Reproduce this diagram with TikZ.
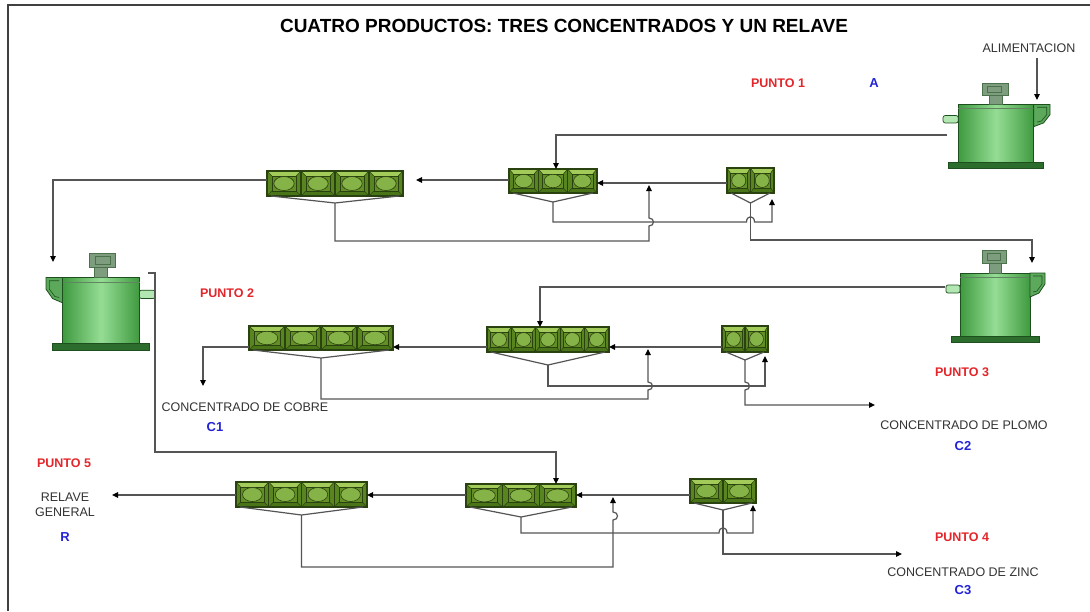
\documentclass[tikz,border=0pt]{standalone}
\usepackage{fontspec}
\setmainfont{Liberation Sans}
\usetikzlibrary{arrows.meta,calc}

\definecolor{linegray}{HTML}{555555}
\definecolor{txtgray}{HTML}{333333}
\definecolor{ptred}{HTML}{E3262B}
\definecolor{ptblue}{HTML}{2424D6}
\definecolor{cellout}{HTML}{2A4210}
\definecolor{cellmid}{HTML}{638F26}
\definecolor{celltop}{HTML}{A2CB5A}
\definecolor{cellbot}{HTML}{4A7418}
\definecolor{cellside}{HTML}{58851F}
\definecolor{cellegg}{HTML}{86B347}
\definecolor{tankedge}{HTML}{3F9A3F}
\definecolor{tankmid}{HTML}{95DD95}
\definecolor{tankline}{HTML}{1E4F1E}
\definecolor{tanklight}{HTML}{B2E6B2}
\definecolor{motorgray}{HTML}{7E9C7E}

\tikzset{
  flow/.style={draw=linegray, line width=1.2pt},
  arr/.style={flow, -{Triangle[length=6pt,width=5.5pt,color=black]}},
  lbl/.style={text=txtgray, font=\fontsize{12.5}{15}\selectfont, inner sep=0pt},
  punto/.style={text=ptred, font=\bfseries\fontsize{12.5}{15}\selectfont, inner sep=0pt},
  tag/.style={text=ptblue, font=\bfseries\fontsize{13}{15}\selectfont, inner sep=0pt},
  bankbox/.style={draw=none, inner sep=0pt, outer sep=0pt},
}

% one flotation cell drawn in a unit square
\newcommand\cellunit{%
  \fill[cellmid] (0,0) rectangle (1,1);
  \fill[celltop] (0,0) -- (1,0) -- (0.86,0.2) -- (0.14,0.2) -- cycle;
  \fill[cellbot] (0,1) -- (1,1) -- (0.86,0.8) -- (0.14,0.8) -- cycle;
  \fill[cellside] (0,0) -- (0.14,0.2) -- (0.14,0.8) -- (0,1) -- cycle;
  \fill[cellside] (1,0) -- (0.86,0.2) -- (0.86,0.8) -- (1,1) -- cycle;
  \draw[cellout, line width=0.5pt] (0,0) -- (0.14,0.2) (1,0) -- (0.86,0.2)
        (0,1) -- (0.14,0.8) (1,1) -- (0.86,0.8);
  \draw[cellout, line width=0.5pt] (0.14,0.2) rectangle (0.86,0.8);
  \filldraw[fill=cellegg, draw=cellout, line width=0.6pt] (0.5,0.5) ellipse [x radius=0.3, y radius=0.28];
  \draw[cellout, line width=1.1pt] (0,0) rectangle (1,1);
}

% bank of cells: name, x0, y0, x1, y1, number of cells, trough depth
\newcommand\bank[7]{%
  \pgfmathsetmacro\bw{(#4-#2)/#6}
  \pgfmathsetmacro\bh{#5-#3}
  \node[bankbox, minimum width={(#4-#2)*1pt}, minimum height={(#5-#3)*1pt}, anchor=north west] (#1) at (#2,#3) {};
  \foreach \k in {1,...,#6}{
    \begin{scope}[shift={({#2+(\k-1)*\bw},#3)}, xscale=\bw, yscale=\bh]
      \cellunit
    \end{scope}
  }
  \coordinate (#1t) at ({(#2+#4)/2},{#5+#7});
  \draw[flow] ({#2+4},#5) -- (#1t) -- ({#4-4},#5);
}

% conditioning tank: x, y of base centre, x scale, y scale
\newcommand\tank[4]{%
  \begin{scope}[shift={(#1,#2)}, xscale=#3, yscale=#4]
    \filldraw[fill=tankedge!70!black, draw=tankline, line width=0.8pt] (-44,-6) rectangle (44,0);
    \draw[tankline, line width=0.8pt, left color=tankedge, right color=tankedge, middle color=tankmid]
          (-35,-69) rectangle (35,-6);
    \draw[tankline!70, line width=0.5pt] (-35,-65) -- (35,-65);
    \filldraw[fill=tankedge!85, draw=tankline, line width=0.8pt]
          (35,-69) -- (50,-69) -- (50,-58) -- (44,-49) -- (35,-45) -- cycle;
    \draw[tankline, line width=0.6pt] (38,-66) -- (47,-66) -- (47,-58) -- (42,-51) -- (38,-50);
    \filldraw[fill=tanklight, draw=tankline, line width=0.7pt, rounded corners=2pt] (-49,-57) rectangle (-35,-49);
    \filldraw[fill=motorgray, draw=tankline!80, line width=0.6pt] (-6,-79) rectangle (6,-69);
    \filldraw[fill=motorgray, draw=tankline!80, line width=0.6pt] (-13,-92) rectangle (11,-79);
    \draw[tankline!80, line width=0.5pt] (-8,-89) rectangle (5,-82);
  \end{scope}
}

\begin{document}
\begin{tikzpicture}[x=1pt, y=-1pt]
  \useasboundingbox (0,0) rectangle (1090,611);
  \fill[white] (0,0) rectangle (1090,611);
  \draw[black!75, line width=1.4pt] (1090,5) -- (8,5) -- (8,611);

  % title and labels
  \node[font=\bfseries\fontsize{19}{22}\selectfont, inner sep=0pt] (title) at (564,26)
       {CUATRO PRODUCTOS: TRES CONCENTRADOS Y UN RELAVE};
  \node[lbl] (alim) at (1029,48) {ALIMENTACION};
  \node[punto] (p1) at (778,83) {PUNTO 1};
  \node[tag] (tA) at (874,83) {A};
  \node[punto] (p2) at (227,293) {PUNTO 2};
  \node[punto] (p3) at (962,372) {PUNTO 3};
  \node[lbl] (cu) at (245,407) {CONCENTRADO DE COBRE};
  \node[tag] (c1) at (215,427) {C1};
  \node[lbl] (pb) at (964,425) {CONCENTRADO DE PLOMO};
  \node[tag] (c2) at (963,446) {C2};
  \node[punto] (p4) at (962,537) {PUNTO 4};
  \node[lbl] (zn) at (963,572) {CONCENTRADO DE ZINC};
  \node[tag] (c3) at (963,590) {C3};
  \node[punto] (p5) at (64,463) {PUNTO 5};
  \node[lbl, align=center] (rel) at (65,505) {RELAVE\\GENERAL};
  \node[tag] (tR) at (65,537) {R};

  % tanks
  \tank{996}{168}{1.08}{0.92}
  \tank{995}{342}{1}{1}
  \tank{101}{350}{-1.1}{1.05}

  % cell banks
  \bank{A}{267}{171}{403}{196}{4}{7}
  \bank{B}{509}{169}{597}{193}{3}{9}
  \bank{C}{727}{168}{774}{193}{2}{10}
  \bank{D}{249}{326}{393}{350}{4}{8}
  \bank{E}{487}{327}{609}{352}{5}{13}
  \bank{F}{722}{326}{768}{352}{2}{8}
  \bank{G}{236}{482}{367}{507}{4}{8}
  \bank{H}{466}{484}{576}{507}{3}{10}
  \bank{I}{690}{479}{756}{503}{2}{7}

  % ports and free ends
  \coordinate (feed) at (1037,58);
  \coordinate (T1in) at (1037,100);
  \coordinate (T1out) at (947,135);
  \coordinate (T2in) at (53,262);
  \coordinate (T2out) at (148,273);
  \coordinate (T3in) at (1032,263);
  \coordinate (T3out) at (945,287);
  \coordinate (r1) at (0,183);
  \coordinate (r1b) at (0,180);
  \coordinate (r2) at (0,347);
  \coordinate (r3) at (0,495);
  \coordinate (Bfree) at (416,180);
  \coordinate (cuTip) at (203,386);
  \coordinate (pbTip) at (875,405);
  \coordinate (znTip) at (902,554);
  \coordinate (Gfree) at (112,495);

  % row 1
  \draw[arr] (feed) -- (T1in);
  \draw[arr] (T1out) -| ([xshift=3pt]B.north);
  \draw[arr] (C.west |- r1) -- (B.east |- r1);
  \draw[arr] (B.west |- r1b) -- (Bfree);
  \draw[arr] (A.west |- r1b) -| (T2in);
  \draw[arr] (At) -- (335,241) -- (649,241) -- (649,226)
             .. controls (655,226) and (655,218) .. (649,218) -- (649,185);
  \draw[arr] (Bt) -- (553,222) -- (746.5,222)
             .. controls (746.5,215) and (754.5,215) .. (754.5,222) -- (772,222) -- (772,199);
  \draw[arr] (Ct) -- (750.5,240) -- (1032,240) -- (T3in);

  % row 2
  \draw[arr] (T3out) -| ([xshift=-8pt]E.north);
  \draw[arr] (F.west |- r2) -- (E.east |- r2);
  \draw[arr] (E.west |- r2) -- (D.east |- r2);
  \draw[arr] (D.west |- r2) -| (cuTip);
  \draw[arr] (Dt) -- (321,399) -- (648,399) -- (648,390)
             .. controls (654,390) and (654,382) .. (648,382) -- (648,349);
  \draw[arr] (Et) -- (548,386) -- (765,386) -- (765,356);
  \draw[arr] (Ft) -- (745,382) .. controls (751,382) and (751,390) .. (745,390)
             -- (745,405) -- (pbTip);

  % row 3
  \draw[arr] (T2out) -- (155,273) -- (155,452) -| ([xshift=35pt]H.north);
  \draw[arr] (I.west |- r3) -- (H.east |- r3);
  \draw[arr] (H.west |- r3) -- (G.east |- r3);
  \draw[arr] (G.west |- r3) -- (Gfree);
  \draw[arr] (Gt) -- (301.5,567) -- (613,567) -- (613,520)
             .. controls (619,520) and (619,512) .. (613,512) -- (613,497);
  \draw[arr] (Ht) -- (521,533) -- (719,533)
             .. controls (719,526) and (727,526) .. (727,533) -- (753,533) -- (753,505);
  \draw[arr] (It) -- (723,554) -- (znTip);
\end{tikzpicture}
\end{document}
